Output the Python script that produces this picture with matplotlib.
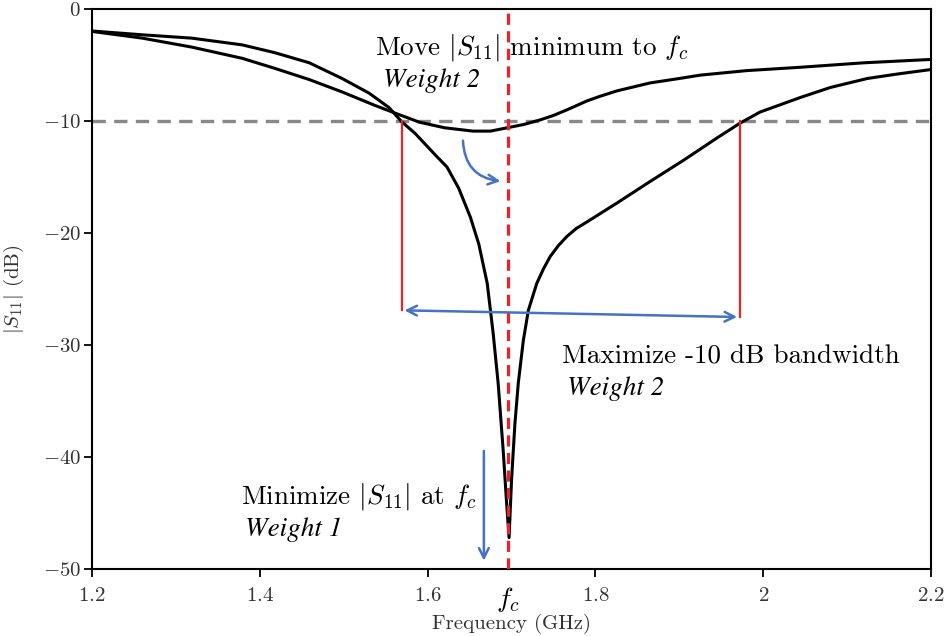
import matplotlib
matplotlib.use('Agg')
import matplotlib.pyplot as plt

plt.rcParams['font.family'] = 'cmr10'
plt.rcParams['mathtext.fontset'] = 'cm'
plt.rcParams['axes.unicode_minus'] = False

# deep resonance (optimised design)
freq_a = [1.200, 1.260, 1.319, 1.379, 1.418, 1.459, 1.498, 1.530, 1.554, 1.569,
          1.585, 1.600, 1.610, 1.623, 1.637, 1.651, 1.661, 1.671, 1.678, 1.684,
          1.690, 1.694, 1.697, 1.700, 1.704, 1.708, 1.714, 1.720, 1.730, 1.738,
          1.746, 1.756, 1.766, 1.777, 1.790, 1.826, 1.865, 1.905, 1.945, 1.972,
          1.996, 2.044, 2.080, 2.124, 2.160, 2.200]
s11_a = [-1.96, -2.3, -2.6, -3.2, -3.9, -4.8, -6.2, -7.5, -8.8, -10.06,
         -11.1, -12.3, -13.1, -14.1, -16.0, -18.6, -21.0, -24.5, -28.9, -33.4,
         -39.4, -44.0, -47.2, -42.0, -37.0, -33.4, -29.6, -26.9, -24.5, -23.2,
         -22.1, -21.1, -20.3, -19.6, -19.0, -17.3, -15.4, -13.5, -11.5, -10.2,
         -9.2, -7.9, -7.0, -6.2, -5.8, -5.4]

# broad shallow response (initial design)
freq_b = [1.200, 1.260, 1.319, 1.379, 1.418, 1.459, 1.498, 1.537, 1.558, 1.590,
          1.620, 1.654, 1.675, 1.695, 1.715, 1.734, 1.750, 1.766, 1.790, 1.805,
          1.826, 1.865, 1.900, 1.925, 1.980, 2.044, 2.120, 2.200]
s11_b = [-2.0, -2.6, -3.4, -4.4, -5.3, -6.3, -7.4, -8.6, -9.2, -10.1,
         -10.6, -10.9, -10.9, -10.6, -10.3, -9.9, -9.5, -9.0, -8.2, -7.8,
         -7.3, -6.6, -6.2, -5.9, -5.5, -5.2, -4.8, -4.5]

fc = 1.696
bw_lo, bw_hi = 1.569, 1.972
bw_y = [-26.9, -27.5]

x_ticks = [1.2, 1.4, 1.6, 1.8, 2.0, 2.2]
x_ticklabels = ['$1.2$', '$1.4$', '$1.6$', '$1.8$', '$2$', '$2.2$']
y_ticks = [-50, -40, -30, -20, -10, 0]
y_ticklabels = ['$-50$', '$-40$', '$-30$', '$-20$', '$-10$', '$0$']

blue = '#4472c4'
red = '#ee2222'
ital = dict(family='STIXGeneral', style='italic')

fig = plt.figure(figsize=(9.47, 6.36), dpi=100)
ax = fig.add_axes([0.0971, 0.1053, 0.8862, 0.8805])

ax.axhline(-10, color='#888888', lw=2.4, ls=(0, (4, 2.5)), zorder=2)
ax.plot(freq_b, s11_b, color='black', lw=2.2, zorder=3)
ax.plot(freq_a, s11_a, color='black', lw=2.2, zorder=3)
ax.axvline(fc, color=red, lw=2.3, ls=(0, (3.5, 2)), zorder=4)

# -10 dB bandwidth markers
ax.plot([bw_lo, bw_lo], [-10, bw_y[0]], color=red, lw=1.6, zorder=3)
ax.plot([bw_hi, bw_hi], [-10, bw_y[1]], color=red, lw=1.6, zorder=3)
ax.annotate('', xy=(bw_lo, bw_y[0]), xytext=(bw_hi, bw_y[1]),
            arrowprops=dict(arrowstyle='<->,head_length=0.7,head_width=0.35', color=blue, lw=1.8),
            zorder=5)

# minimise arrow
ax.annotate('', xy=(1.667, -49.5), xytext=(1.667, -39.2),
            arrowprops=dict(arrowstyle='->,head_length=0.7,head_width=0.35', color=blue, lw=1.8))
# move-minimum arrow
ax.annotate('', xy=(1.690, -15.4), xytext=(1.642, -11.5),
            arrowprops=dict(arrowstyle='->,head_length=0.7,head_width=0.35', color=blue, lw=1.8,
                            connectionstyle='arc3,rad=0.45'))

fs = 19.5
ax.text(1.537, -3.4, r'Move $|S_{11}|$ minimum to $f_c$', fontsize=fs, va='center', ha='left')
ax.text(1.547, -6.4, 'Weight 2', fontsize=fs, va='center', ha='left', **ital)
ax.text(1.760, -31.0, 'Maximize -10 dB bandwidth', fontsize=fs, va='center', ha='left')
ax.text(1.766, -33.9, 'Weight 2', fontsize=fs, va='center', ha='left', **ital)
ax.text(1.378, -43.5, r'Minimize $|S_{11}|$ at $f_c$', fontsize=fs, va='center', ha='left')
ax.text(1.382, -46.5, 'Weight 1', fontsize=fs, va='center', ha='left', **ital)

ax.set_xlim(1.2, 2.2)
ax.set_ylim(-50, 0)
ax.set_xticks(x_ticks)
ax.set_xticklabels(x_ticklabels, fontsize=15, color='#333333')
ax.set_yticks(y_ticks)
ax.set_yticklabels(y_ticklabels, fontsize=15, color='#333333')
ax.tick_params(direction='out', length=6, width=1.3)
ax.tick_params(axis='x', pad=7)
ax.tick_params(axis='y', pad=2)
ax.text(fc, -51.4, '$f_c$', fontsize=20, ha='center', va='top')
ax.set_xlabel('Frequency (GHz)', fontsize=15, color='#333333', labelpad=6)
ax.set_ylabel(r'$|S_{11}|$ (dB)', fontsize=15, color='#333333', labelpad=12)
for sp in ax.spines.values():
    sp.set_linewidth(1.5)

fig.savefig('out.png', dpi=100)
